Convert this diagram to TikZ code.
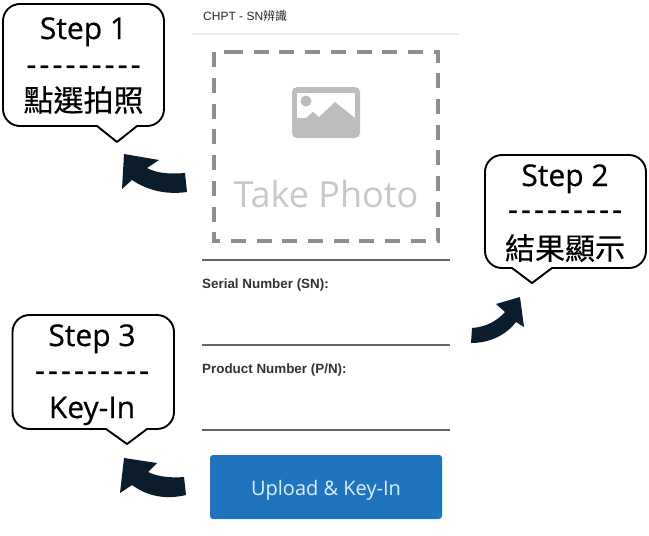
\documentclass[tikz,border=0pt]{standalone}
\usepackage{fontspec}
\setmainfont{Open Sans}
\newfontfamily\cjkfont{Noto Sans CJK TC}
\newfontfamily\cjkboldish[FakeBold=0.35]{Noto Sans CJK TC}
\newfontfamily\uifont{Liberation Sans}
\newfontfamily\stepfont[FakeBold=0.55]{Open Sans}
\newfontfamily\dashfont[LetterSpace=10.5,FakeBold=0.8]{Open Sans}
\definecolor{arrowink}{HTML}{0B1C2C}
\definecolor{dashgray}{HTML}{8E8E8E}
\definecolor{icongray}{HTML}{BDBDBD}
\definecolor{photogray}{HTML}{C8C8C8}
\definecolor{rulegray}{HTML}{666666}
\definecolor{btnblue}{HTML}{1F74BD}
\definecolor{btntext}{HTML}{DCEEFA}
\tikzset{
  bubble/.style={draw=black,line width=1.9pt,fill=white,line join=round},
  bigarrow/.style={fill=arrowink,draw=none},
  steptext/.style={anchor=base,inner sep=0pt,font=\stepfont\fontsize{30}{30}\selectfont},
  dashtext/.style={anchor=base,inner sep=0pt,font=\dashfont\fontsize{30.5}{30}\selectfont},
  cjktext/.style={anchor=center,inner sep=0pt,font=\cjkboldish\fontsize{30}{30}\selectfont},
  fieldrule/.style={draw=rulegray,line width=1.4pt},
  fieldlabel/.style={anchor=base west,inner sep=0pt,text=black!80,font=\uifont\bfseries\fontsize{13.4}{14}\selectfont},
}
\begin{document}
\begin{tikzpicture}[x=1pt,y=-1pt]
\useasboundingbox (0,0) rectangle (649,536);
\fill[white] (0,0) rectangle (649,536);

% phone header
\node[anchor=base west,inner sep=0pt,font=\uifont\fontsize{12}{12}\selectfont,text=black!85] (title) at (203,20) {CHPT - SN{\cjkfont 辨識}};
\draw[draw=black!7,line width=1.3pt] (192,34) -- (459,34);

% dashed photo frame
\draw[draw=dashgray,line width=3.4pt,dash pattern=on 15pt off 10.7pt]
  (228,52) -- (438,52) -- (438,241) -- (214,241) -- (214,52) -- (228,52);

% picture icon
\fill[icongray,rounded corners=5pt] (292,87) rectangle (360,138);
\fill[white] (297,93) rectangle (355,118);
\fill[icongray] (297,128) -- (297,126) -- (313,112) -- (319,117) -- (335,102) -- (355,118) -- (355,128) -- cycle;
\fill[icongray] (306,101) circle (5.5pt);
\node[anchor=base,inner sep=0pt,text=photogray,font=\fontsize{36}{36}\selectfont] (photo) at (326,207) {Take Photo};

% form
\draw[fieldrule] (202,260) -- (450,260);
\node[fieldlabel] (sn) at (202,288) {Serial Number (SN):};
\draw[fieldrule] (202,345) -- (450,345);
\node[fieldlabel] (pn) at (202,373) {Product Number (P/N):};
\draw[fieldrule] (202,430) -- (450,430);
\fill[btnblue,rounded corners=3pt] (210,455) rectangle (442,519);
\node[anchor=base,inner sep=0pt,text=btntext,font=\fontsize{20}{20}\selectfont] (btn) at (326,495) {Upload \& Key-In};

% callout 1
\draw[bubble] (137,126) [rounded corners=17pt] -- (164,126) -- (164,4) -- (3,4) -- (3,126) [sharp corners] -- (97,126) -- (117,142) -- cycle;
\node[steptext] (s1) at (83.5,39) {Step 1};
\node[dashtext] (d1) at (83.5,75) {---------};
\node[cjktext] (c1) at (83.5,100) {點選拍照};

% callout 2
\draw[bubble] (552,268) [rounded corners=17pt] -- (646,268) -- (646,155) -- (485,155) -- (485,268) [sharp corners] -- (512,268) -- (532,283) -- cycle;
\node[steptext] (s2) at (565,186) {Step 2};
\node[dashtext] (d2) at (565,220) {---------};
\node[cjktext] (c2) at (565,248) {結果顯示};

% callout 3
\draw[bubble] (147,429) [rounded corners=17pt] -- (174,429) -- (174,315) -- (12.5,315) -- (12.5,429) [sharp corners] -- (106,429) -- (127,444) -- cycle;
\node[steptext] (s3) at (92,346) {Step 3};
\node[dashtext] (d3) at (92,381) {---------};
\node[steptext] (c3) at (92,418) {Key-In};

% block arrows
\fill[bigarrow] (124,154) -- (159,160) -- (147,168) .. controls (158,174) and (172,174) .. (185,173)
  -- (187,192) .. controls (165,195) and (147,190) .. (132,180) -- (122,189) -- cycle;
\fill[bigarrow] (520,297) -- (496,304) -- (505,312) .. controls (497,321) and (486,327) .. (472,328)
  -- (471,343) .. controls (490,343) and (506,335) .. (516,322) -- (524,327) -- cycle;
\fill[bigarrow] (124,458) -- (157,463) -- (148,472) .. controls (158,477) and (172,478) .. (184,477)
  -- (186,495) .. controls (165,500) and (147,496) .. (132,485) -- (120,493) -- cycle;
\end{tikzpicture}
\end{document}
